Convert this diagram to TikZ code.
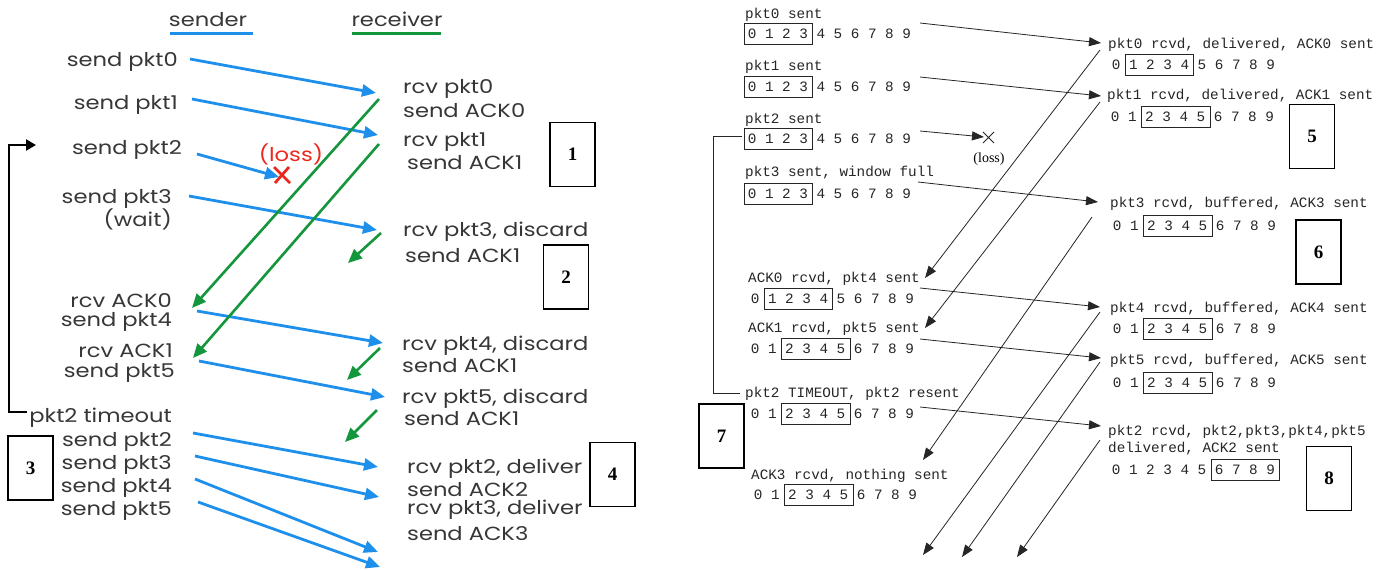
\documentclass[tikz,border=0pt]{standalone}
\usepackage{fontspec}
\setmainfont{Liberation Serif}
\newfontfamily\gothic[FakeStretch=1.19]{Poppins}
\newfontfamily\mono{Liberation Mono}
\usetikzlibrary{arrows.meta}
\definecolor{sblue}{RGB}{30,144,235}
\definecolor{rgreen}{RGB}{20,150,60}
\definecolor{lred}{RGB}{235,40,30}
\definecolor{txt}{RGB}{55,55,55}
\tikzset{
 gl/.style={font=\gothic\fontsize{19}{19}\selectfont, text=txt, inner sep=0},
 slab/.style={gl, anchor=base east},
 rlab/.style={gl, anchor=base west},
 bluearr/.style={draw=sblue, line width=2.8pt, -{Triangle[length=14pt,width=12pt]}},
 greenarr/.style={draw=rgreen, line width=2.6pt, -{Triangle[length=14pt,width=12pt]}},
 numbox/.style={draw, line width=1.8pt, minimum width=45pt, minimum height=64pt, font=\bfseries\fontsize{19}{19}\selectfont, inner sep=0},
 ml/.style={font=\mono\fontsize{14.3}{14.3}\selectfont, anchor=base west, inner sep=0, text=black!85},
 thinline/.style={draw=black!85, line width=0.8pt},
 tarr/.style={thinline, -{Triangle[length=12pt,width=9pt]}},
}
% name, x0 (center of digit 0), baseline, first, last of window
\newcommand\winrow[5]{%
 \node[ml] (#1) at ({#2-4.3},#3) {0 1 2 3 4 5 6 7 8 9};
 \draw[thinline, line width=0.9pt] ({#2+17.2*#4-8},{#3-15}) rectangle ({#2+17.2*#5+9},{#3+6});
}
\begin{document}
\begin{tikzpicture}[x=1pt,y=-1pt]
\useasboundingbox[fill=white] (0,0) rectangle (1387,570);

% ================= LEFT PANEL =================
\node[gl, anchor=base] (sh) at (208,27) {sender};
\node[gl, anchor=base] (rh) at (397,27) {receiver};
\draw[sblue, line width=3pt] (170,33) -- (253,33);
\draw[rgreen, line width=3pt] (352,33) -- (441,33);

\node[slab] (l0) at (178,66) {send pkt0};
\node[slab] (l1) at (178,109) {send pkt1};
\node[slab] (l2) at (182,154) {send pkt2};
\node[slab] (l3) at (172,203) {send pkt3};
\node[slab] (l3w) at (172,226) {(wait)};
\node[slab] (la0) at (172,307) {rcv ACK0};
\node[slab] (l4) at (172,326) {send pkt4};
\node[slab] (la1) at (173,357) {rcv ACK1};
\node[slab] (l5) at (175,377) {send pkt5};
\node[slab] (lto) at (172,422) {pkt2 timeout};
\node[slab] (m2) at (172,446) {send pkt2};
\node[slab] (m3) at (172,469) {send pkt3};
\node[slab] (m4) at (172,492) {send pkt4};
\node[slab] (m5) at (172,515) {send pkt5};

\node[rlab] (r0) at (403,93) {rcv pkt0};
\node[rlab] (r0b) at (403,117) {send ACK0};
\node[rlab] (r1) at (403,146) {rcv pkt1};
\node[rlab] (r1b) at (407,169) {send ACK1};
\node[rlab] (r3) at (403,236) {rcv pkt3, discard};
\node[rlab] (r3b) at (405,262) {send ACK1};
\node[rlab] (r4) at (402,350) {rcv pkt4, discard};
\node[rlab] (r4b) at (402,372) {send ACK1};
\node[rlab] (r5) at (402,403) {rcv pkt5, discard};
\node[rlab] (r5b) at (404,425) {send ACK1};
\node[rlab] (r6) at (407,473) {rcv pkt2, deliver};
\node[rlab] (r6b) at (407,496) {send ACK2};
\node[rlab] (r7) at (407,514) {rcv pkt3, deliver};
\node[rlab] (r7b) at (407,540) {send ACK3};

\node[numbox] (n1) at (572.5,154.5) {1};
\node[numbox] (n2) at (566,277) {2};
\node[numbox] (n3) at (30.5,468) {3};
\node[numbox] (n4) at (612.5,474.5) {4};

\coordinate (s0) at (190,59);  \coordinate (e0) at (376,93);
\coordinate (s1) at (192,99);  \coordinate (e1) at (378,135);
\coordinate (s2) at (197,154); \coordinate (e2) at (279,177);
\coordinate (s3) at (189,196); \coordinate (e3) at (377,230);
\coordinate (s4) at (197,311); \coordinate (e4) at (383,343);
\coordinate (s5) at (199,361); \coordinate (e5) at (385,397);
\coordinate (t2) at (193,433); \coordinate (u2) at (378,467);
\coordinate (t3) at (195,456); \coordinate (u3) at (379,497);
\coordinate (t4) at (195,479); \coordinate (u4) at (378,552);
\coordinate (t5) at (198,502); \coordinate (u5) at (380,567);
\foreach \a/\b in {s0/e0,s1/e1,s2/e2,s3/e3,s4/e4,s5/e5,t2/u2,t3/u3,t4/u4,t5/u5}
  \draw[bluearr] (\a) -- (\b);

\coordinate (a0s) at (379,99);  \coordinate (a0e) at (192,308);
\coordinate (a1s) at (379,144); \coordinate (a1e) at (193,358);
\coordinate (b1s) at (381,233); \coordinate (b1e) at (348,263);
\coordinate (b2s) at (380,348); \coordinate (b2e) at (347,380);
\coordinate (b3s) at (377,410); \coordinate (b3e) at (345,442);
\foreach \a/\b in {a0s/a0e,a1s/a1e,b1s/b1e,b2s/b2e,b3s/b3e}
  \draw[greenarr] (\a) -- (\b);

% loss
\node[gl, text=lred, anchor=base] (loss) at (291,161) {(loss)};
\coordinate (xa) at (274,167); \coordinate (xb) at (290,183);
\coordinate (xc) at (289,167); \coordinate (xd) at (275,183);
\draw[lred, line width=2.8pt] (xa) -- (xb) (xc) -- (xd);

% timeout bracket
\coordinate (k0) at (27,412); \coordinate (k1) at (9,412);
\coordinate (k2) at (9,145);  \coordinate (k3) at (36,145);
\draw[black, line width=2.8pt, -{Triangle[length=10pt,width=11pt]}] (k0) -- (k1) -- (k2) -- (k3);

% ================= RIGHT PANEL =================
\node[ml] (p0) at (745,18) {pkt0 sent};
\winrow{w0}{752}{38}{0}{3}
\node[ml] (p1) at (745,70) {pkt1 sent};
\winrow{w1}{752}{91}{0}{3}
\node[ml] (p2) at (745,123) {pkt2 sent};
\winrow{w2}{752}{143}{0}{3}
\node[ml] (p3) at (745,176) {pkt3 sent, window full};
\winrow{w3}{752}{198}{0}{3}
\node[ml] (pa0) at (748,282) {ACK0 rcvd, pkt4 sent};
\winrow{wa0}{755}{303}{1}{4}
\node[ml] (pa1) at (748,332) {ACK1 rcvd, pkt5 sent};
\winrow{wa1}{755}{353}{2}{5}
\node[ml] (pto) at (745,397) {pkt2 TIMEOUT, pkt2 resent};
\winrow{wto}{755}{418}{2}{5}
\node[ml] (pa3) at (751,479) {ACK3 rcvd, nothing sent};
\winrow{wa3}{758}{499}{2}{5}

\node[ml] (q0) at (1108,48) {pkt0 rcvd, delivered, ACK0 sent};
\winrow{v0}{1116}{69}{1}{4}
\node[ml] (q1) at (1107,99) {pkt1 rcvd, delivered, ACK1 sent};
\winrow{v1}{1115}{121}{2}{5}
\node[ml] (q3) at (1110,207) {pkt3 rcvd, buffered, ACK3 sent};
\winrow{v3}{1117}{230}{2}{5}
\node[ml] (q4) at (1110,312) {pkt4 rcvd, buffered, ACK4 sent};
\winrow{v4}{1117}{333}{2}{5}
\node[ml] (q5) at (1110,364) {pkt5 rcvd, buffered, ACK5 sent};
\winrow{v5}{1117}{387}{2}{5}
\node[ml] (q2) at (1108,435) {pkt2 rcvd, pkt2,pkt3,pkt4,pkt5};
\node[ml] (q2b) at (1108,452) {delivered, ACK2 sent};
\winrow{v2}{1116}{474}{6}{9}

\node[numbox] (n5) at (1312,136.5) {5};
\node[numbox] (n6) at (1318.5,252) {6};
\node[numbox] (n7) at (721.5,436) {7};
\node[numbox] (n8) at (1329,478.5) {8};

% timeout bracket (right)
\coordinate (c0) at (742,136); \coordinate (c1) at (713,136);
\coordinate (c2) at (713,393); \coordinate (c3) at (740,393);
\draw[thinline] (c0) -- (c1) -- (c2) -- (c3);

% data packets
\coordinate (d0s) at (920,23);  \coordinate (d0e) at (1101,43);
\coordinate (d1s) at (920,77);  \coordinate (d1e) at (1101,96);
\coordinate (d2s) at (920,131); \coordinate (d2e) at (984,137);
\coordinate (d3s) at (918,182); \coordinate (d3e) at (1098,202);
\coordinate (d4s) at (920,288); \coordinate (d4e) at (1100,307);
\coordinate (d5s) at (920,339); \coordinate (d5e) at (1101,358);
\coordinate (d6s) at (920,407); \coordinate (d6e) at (1101,426);
\foreach \a/\b in {d0s/d0e,d1s/d1e,d2s/d2e,d3s/d3e,d4s/d4e,d5s/d5e,d6s/d6e}
  \draw[tarr] (\a) -- (\b);
\coordinate (ya) at (983,132); \coordinate (yb) at (994,143);
\coordinate (yc) at (994,132); \coordinate (yd) at (983,143);
\draw[thinline] (ya) -- (yb) (yc) -- (yd);
\node[font=\fontsize{14}{14}\selectfont, anchor=base, inner sep=0] (rloss) at (989,162) {(loss)};

% acks
\coordinate (k0s) at (1100,50);  \coordinate (k0e) at (925,278);
\coordinate (k1s) at (1100,102); \coordinate (k1e) at (925,328);
\coordinate (k3s) at (1092,217); \coordinate (k3e) at (923,460);
\coordinate (k4s) at (1100,312); \coordinate (k4e) at (923,555);
\coordinate (k5s) at (1100,362); \coordinate (k5e) at (962,557);
\coordinate (k2s) at (1100,440); \coordinate (k2e) at (1017,557);
\foreach \a/\b in {k0s/k0e,k1s/k1e,k3s/k3e,k4s/k4e,k5s/k5e,k2s/k2e}
  \draw[tarr] (\a) -- (\b);
\end{tikzpicture}
\end{document}
